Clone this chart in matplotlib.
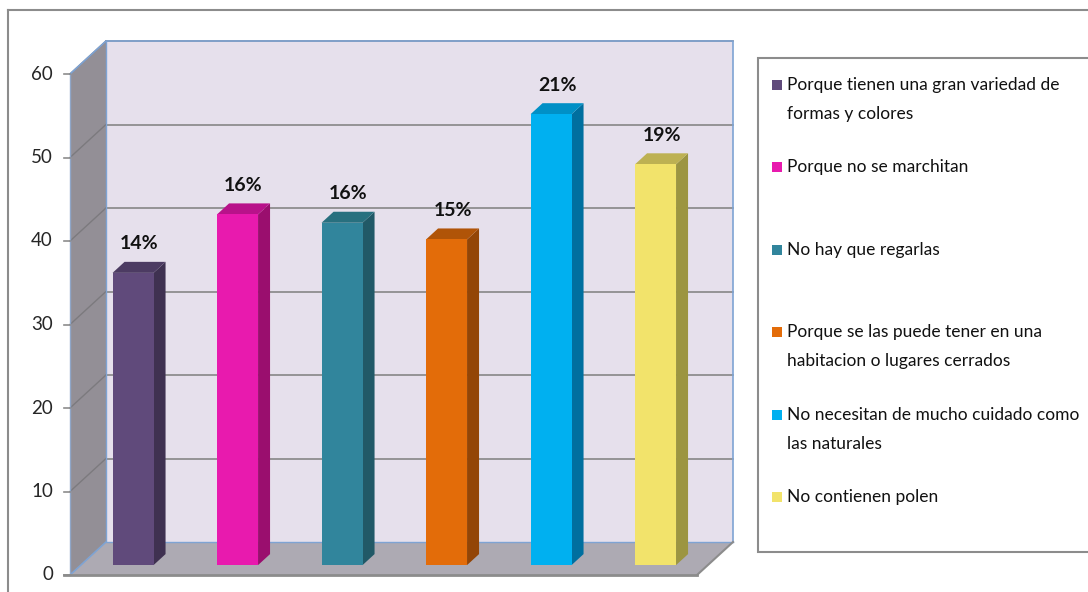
import matplotlib.pyplot as plt
from matplotlib.patches import Polygon, Rectangle

# Data
categories = [
    "Porque tienen una gran variedad de\nformas y colores",
    "Porque no se marchitan",
    "No hay que regarlas",
    "Porque se las puede tener en una\nhabitacion o lugares cerrados",
    "No necesitan de mucho cuidado como\nlas naturales",
    "No contienen polen",
]
values = [35, 42, 41, 39, 54, 48]
pct_labels = ["14%", "16%", "16%", "15%", "21%", "19%"]
yticks = [0, 10, 20, 30, 40, 50, 60]

front_colors = ["#604A7B", "#E81AAE", "#31859C", "#E36C09", "#00B0F0", "#F2E36B"]
side_colors = ["#3F3151", "#9A0E6E", "#215967", "#934506", "#006F9F", "#9C9541"]
top_colors = ["#4C3B62", "#B8128A", "#28707F", "#B05408", "#0090C6", "#BDB152"]

plt.rcParams["font.family"] = ["Lato", "DejaVu Sans"]

W, H = 1088, 592
fig = plt.figure(figsize=(W / 100, H / 100), dpi=100)

# front plane of the 3d box, in pixels
x0p, x1p, y0p, y1p = 70, 697, 575, 74
ax = fig.add_axes([x0p / W, (H - y0p) / H, (x1p - x0p) / W, (y0p - y1p) / H])
ax.set_xlim(-0.5, len(values) - 0.5)
ax.set_ylim(0, 60)
ax.axis("off")

n = len(values)
px_x = (x1p - x0p) / n
px_y = (y0p - y1p) / 60.0
DX = 36 / px_x       # depth shift in category units
DY = 33 / px_y       # depth shift in value units
L, R = -0.5, n - 0.5

def poly(pts, fc, ec="none", lw=0, z=1):
    ax.add_patch(Polygon(pts, closed=True, facecolor=fc, edgecolor=ec,
                         linewidth=lw, zorder=z, clip_on=False))

# walls and floor
poly([(L + DX, DY), (R + DX, DY), (R + DX, 60 + DY), (L + DX, 60 + DY)], "#E6E0EC", z=1)
poly([(L, 0), (L, 60), (L + DX, 60 + DY), (L + DX, DY)], "#938F96", z=1)
poly([(L, 0), (R, 0), (R + DX, DY), (L + DX, DY)], "#ADAAB3", z=1)

# grid lines
for v in yticks[1:]:
    ax.plot([L + DX, R + DX], [v + DY, v + DY], color="#868686", lw=1.2, zorder=2, clip_on=False)
    ax.plot([L, L + DX], [v, v + DY], color="#7C7A7E", lw=1.0, zorder=2, clip_on=False)

# light blue wall edges
edge = "#7EA3D3"
ax.plot([L, L + DX, R + DX, R + DX], [60, 60 + DY, 60 + DY, DY], color=edge, lw=1.2, zorder=2, clip_on=False)
ax.plot([L + DX, L + DX, R + DX], [60 + DY, DY, DY], color=edge, lw=1.0, zorder=2, clip_on=False)
ax.plot([L, L + DX], [0, DY], color=edge, lw=1.2, zorder=2, clip_on=False)
ax.plot([L, L], [0, 60], color="#8FA6C8", lw=1.0, zorder=2, clip_on=False)
ax.plot([R, R + DX], [0, DY], color="#8C8C8C", lw=1.5, zorder=2, clip_on=False)
ax.plot([L - 0.06, R], [0, 0], color="#8C8C8C", lw=2.0, zorder=2, clip_on=False)

# y ticks and labels
for v in yticks:
    ax.plot([L - 6 / px_x, L], [v, v], color="#8C8C8C", lw=1.2, zorder=2, clip_on=False)
    ax.text(L - 17 / px_x, v, str(v), ha="right", va="center", fontsize=13.5,
            color="#262626", clip_on=False)

# 3d bars
f0 = 0.30
bw = 41 / px_x
bdx = 12 / px_x
bdy = 11 / px_y
xs = [i + f0 * DX for i in range(n)]
base = f0 * DY
ax.bar(xs, values, width=bw, bottom=base, color=front_colors, zorder=5, clip_on=False)
for i, v in enumerate(values):
    xl, xr = xs[i] - bw / 2, xs[i] + bw / 2
    top = base + v
    poly([(xr, base), (xr + bdx, base + bdy), (xr + bdx, top + bdy), (xr, top)], side_colors[i], z=4)
    poly([(xl, top), (xr, top), (xr + bdx, top + bdy), (xl + bdx, top + bdy)], top_colors[i], z=4)
    ax.text(xs[i] + bdx / 2, top + 29 / px_y, pct_labels[i], ha="center", va="center",
            fontsize=14, fontweight="bold", color="#111111", zorder=6, clip_on=False)

# outer chart frame
fig.add_artist(plt.Line2D([8 / W, 8 / W], [0, 1 - 10 / H], color="#8C8C8C", lw=1.5))
fig.add_artist(plt.Line2D([8 / W, 1], [1 - 10 / H, 1 - 10 / H], color="#8C8C8C", lw=1.5))

# legend box drawn by hand
fig.add_artist(Rectangle((758 / W, (H - 552) / H), (W + 10 - 758) / W, (552 - 58) / H,
                         transform=fig.transFigure, facecolor="white", edgecolor="#8C8C8C",
                         lw=1.5, clip_on=False))
entry_y = [85, 167, 250, 332, 415, 497]
for i, lab in enumerate(categories):
    yc = entry_y[i]
    fig.add_artist(Rectangle((772 / W, (H - yc - 5) / H), 10 / W, 10 / H,
                             transform=fig.transFigure, facecolor=front_colors[i],
                             edgecolor="none"))
    for k, line in enumerate(lab.split("\n")):
        fig.text(787 / W, (H - yc - 29 * k) / H, line, ha="left", va="center",
                 fontsize=12.5, color="#111111")

fig.savefig("out.png", dpi=100)
